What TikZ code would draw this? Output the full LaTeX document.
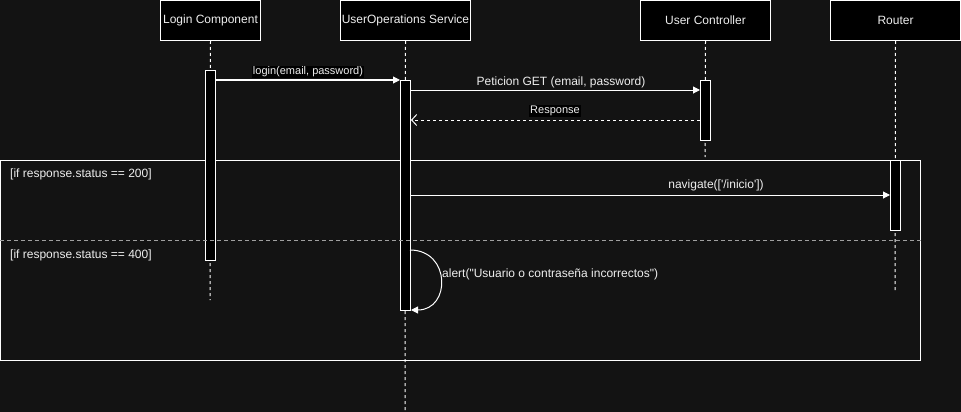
\documentclass[tikz,border=0pt]{standalone}
\usepackage{fontspec}
\setmainfont{Liberation Sans}[Ligatures=TeXOff]
\usetikzlibrary{arrows.meta}
\definecolor{bg}{HTML}{131313}
\definecolor{txt}{HTML}{EEEEEE}
\definecolor{divgray}{HTML}{A0A0A0}
\begin{document}
\begin{tikzpicture}[x=1pt,y=-1pt,
  head/.style={draw=white, fill=black, line width=1pt, minimum height=40pt, text=txt,
    font=\fontsize{12}{14}\selectfont, inner sep=0pt, anchor=north west},
  actbar/.style={draw=white, fill=black, line width=1pt, minimum width=10pt, inner sep=0pt, anchor=north west},
  life/.style={draw=white, line width=1pt, dash pattern=on 3pt off 3pt},
  msg/.style={draw=white, line width=1pt, -{Triangle[length=7pt,width=7pt]}},
  reply/.style={draw=white, line width=1pt, dash pattern=on 3pt off 3pt, -{Straight Barb[length=5pt,width=11pt]}},
  lbl/.style={text=txt, inner sep=1pt, font=\fontsize{12}{14}\selectfont},
  slbl/.style={text=txt, fill=black, inner sep=1pt, font=\fontsize{11}{13}\selectfont},
  framebox/.style={draw=white, line width=1pt, inner sep=0pt, anchor=north west, minimum width=920pt, minimum height=200pt},
]
\fill[bg] (0,0) rectangle (961,412);
\useasboundingbox (0,0) rectangle (961,412);

% alt frame
\node[framebox] (alt) at (0,160) {};

% heads
\node[head, minimum width=100pt] (lc) at (160,0) {Login Component};
\node[head, minimum width=130pt] (us) at (340,0) {UserOperations Service};
\node[head, minimum width=130pt] (uc) at (640,0) {User Controller};
\node[head, minimum width=130pt] (ro) at (830,0) {Router};

% lifeline ends
\coordinate (lcend) at (210,300);
\coordinate (usend) at (405,412);
\coordinate (ucend) at (705,157);
\coordinate (roend) at (895,290);
\draw[life] (lc.south) -- (lcend);
\draw[life] (us.south) -- (usend);
\draw[life] (uc.south) -- (ucend);
\draw[life] (ro.south) -- (roend);

% activation bars
\node[actbar, minimum height=190pt] (a1) at (205,70) {};
\node[actbar, minimum height=230pt] (a2) at (400,80) {};
\node[actbar, minimum height=60pt] (a3) at (700,80) {};
\node[actbar, minimum height=70pt] (a4) at (890,160) {};

% divider
\coordinate (dl) at (0,240);
\coordinate (dr) at (922,240);
\draw[divgray, line width=1pt, dash pattern=on 4pt off 3pt] (dl) -- (dr);

% frame labels
\node[lbl, anchor=west] (g1) at (9,174) {[if response.status == 200]};
\node[lbl, anchor=west] (g2) at (9,255) {[if response.status == 400]};

% messages
\coordinate (m1s) at (215,80);
\coordinate (m2s) at (410,90);
\coordinate (m2e) at (700,90);
\coordinate (m3s) at (700,120);
\coordinate (m3e) at (411,120);
\coordinate (m4s) at (410,195);
\coordinate (m4e) at (890,195);
\coordinate (m5s) at (410,250);
\coordinate (m5e) at (411,310);

\draw[msg] (m1s) -- (a2.north west);
\node[slbl] (l1) at (308,72) {login(email, password)};

\draw[msg] (m2s) -- (m2e);
\node[lbl] (l2) at (561,82) {Peticion GET (email, password)};

\draw[reply] (m3s) -- (m3e);
\node[slbl] (l3) at (555,111) {Response};

\draw[msg] (m4s) -- (m4e);
\node[lbl] (l4) at (716,185) {navigate(['/inicio'])};

\draw[msg] (m5s) .. controls (451,250) and (451,310) .. (m5e);
\node[lbl, anchor=west] (l5) at (441,274) {alert("Usuario o contraseña incorrectos")};
\end{tikzpicture}
\end{document}
